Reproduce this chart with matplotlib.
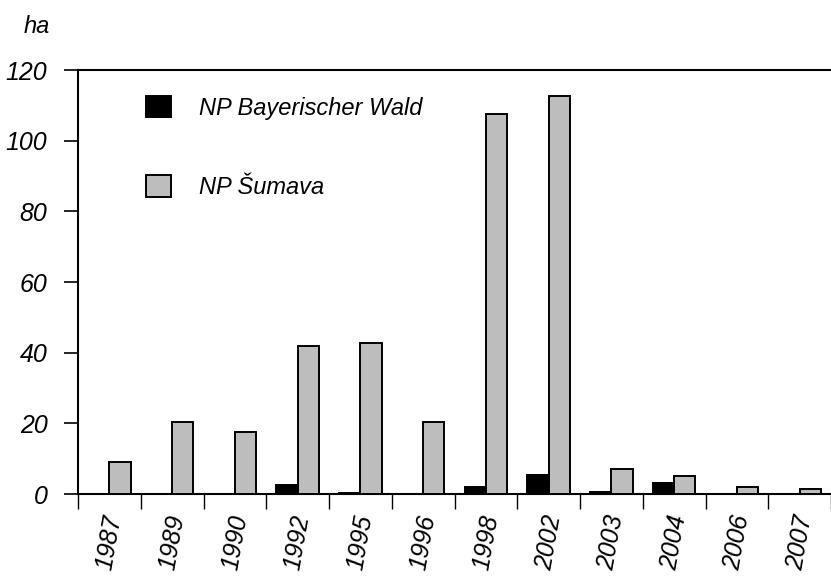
import numpy as np
import matplotlib.pyplot as plt

years = ['1987', '1989', '1990', '1992', '1995', '1996',
         '1998', '2002', '2003', '2004', '2006', '2007']
bayern = [0, 0, 0, 2.5, 0.4, 0, 1.9, 5.3, 0.7, 3.2, 0, 0]
sumava = [9, 20.4, 17.5, 41.9, 42.7, 20.5, 107.5, 112.6, 7.0, 5.1, 2.1, 1.3]

font = 'Liberation Sans'
plt.rcParams['font.family'] = [font, 'DejaVu Sans']
plt.rcParams['font.style'] = 'italic'

fig = plt.figure(figsize=(8.31, 5.82), dpi=100)
ax = fig.add_axes([0.0939, 0.1512, 0.9061, 0.7285])

x = np.arange(len(years))
w = 0.34
ax.bar(x - w / 2, bayern, w, color='black', edgecolor='black', linewidth=1.4,
       label='NP Bayerischer Wald', zorder=3)
ax.bar(x + w / 2, sumava, w, color='#bdbdbd', edgecolor='black', linewidth=1.4,
       label='NP Šumava', zorder=3)

ax.set_xlim(-0.5, len(years) - 0.5)
ax.set_ylim(0, 120)
ax.set_yticks(range(0, 121, 20))
ax.tick_params(axis='y', direction='out', length=10, width=1.2, labelsize=18, pad=12)

ax.set_xticks(np.arange(-0.5, len(years)), [''] * (len(years) + 1))
ax.set_xticks(x, years, minor=True)
ax.tick_params(axis='x', which='major', direction='out', length=11, width=1.0)
ax.tick_params(axis='x', which='minor', length=0, labelsize=18, pad=14)
for lab in ax.get_xticklabels(minor=True):
    lab.set_rotation(80)
    lab.set_ha('center')
    lab.set_va('top')

for s in ['left', 'top', 'bottom']:
    ax.spines[s].set_linewidth(1.5)
ax.spines['right'].set_visible(False)

ax.legend(loc='upper left', bbox_to_anchor=(0.062, 0.99), frameon=False,
          fontsize=17, handlelength=1.05, handleheight=1.05, labelspacing=2.35,
          handletextpad=1.2)

fig.text(0.028, 0.943, 'ha', fontsize=17, style='italic')

fig.savefig('out.png', dpi=100)
